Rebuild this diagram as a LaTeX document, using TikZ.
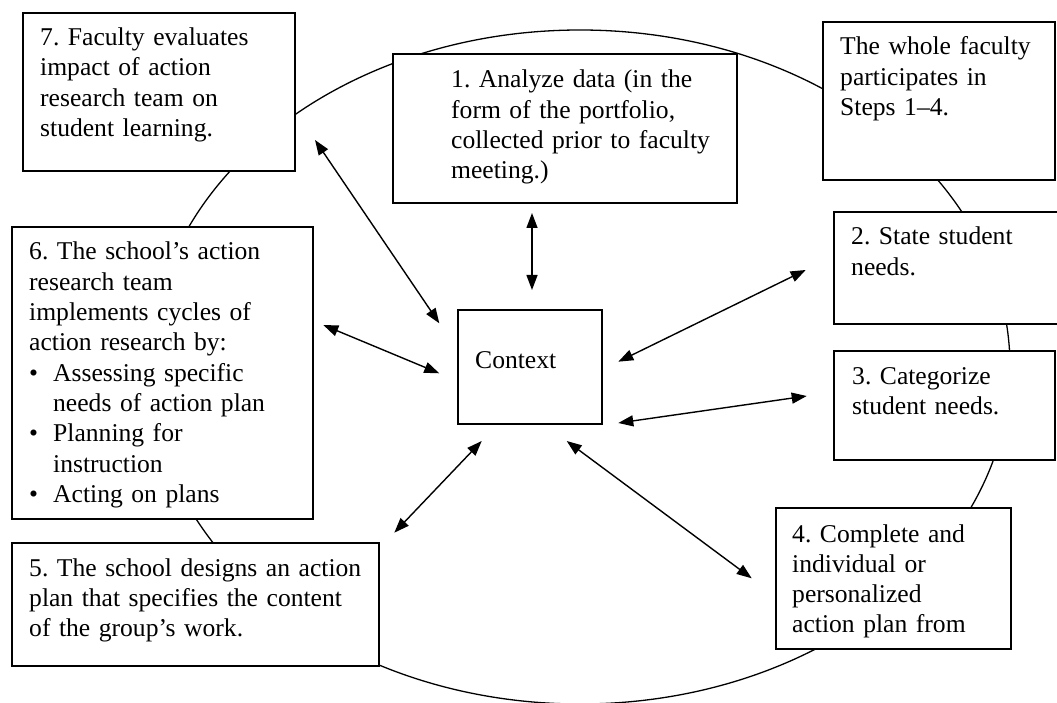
\documentclass[tikz,border=0pt]{standalone}
\usepackage{fontspec}
\setmainfont{Liberation Serif}
\usetikzlibrary{arrows.meta}

\begin{document}
\frenchspacing
\begin{tikzpicture}[x=1pt,y=-1pt,
  box/.style={draw, line width=1.4pt, fill=white, rectangle, inner sep=0pt},
  txt/.style={anchor=base west, inner sep=0pt, text width=400pt, align=left,
              font=\fontsize{25.6}{30.3}\selectfont\frenchspacing},
  ring/.style={line width=1.3pt},
  link/.style={line width=1.4pt,
               {Triangle[length=15pt,width=11pt]}-{Triangle[length=15pt,width=11pt]}}]
\useasboundingbox (0,0) rectangle (1057,703);
\fill[white] (0,0) rectangle (1057,703);

% the cycle behind all the steps
\draw[ring] (580,367) ellipse [x radius=430pt, y radius=337pt];

% step boxes (white fill hides the ellipse behind them)
\node[box, minimum width=272pt, minimum height=158pt] (b7)  at (159,92)     {};
\node[box, minimum width=344pt, minimum height=149pt] (b1)  at (565,128.5)  {};
\node[box, minimum width=232pt, minimum height=158pt] (bw)  at (939,101)    {};
\node[box, minimum width=228pt, minimum height=112pt] (b2)  at (948,268)    {};
\node[box, minimum width=221pt, minimum height=109pt] (b3)  at (944.5,405.5){};
\node[box, minimum width=235pt, minimum height=141pt] (b4)  at (893.5,578.5){};
\node[box, minimum width=367pt, minimum height=123pt] (b5)  at (195.5,604.5){};
\node[box, minimum width=301pt, minimum height=292pt] (b6)  at (162.5,373)  {};
\node[box, minimum width=144pt, minimum height=114pt] (ctx) at (530,367)    {};

% box texts
\node[txt] (t7) at (40,45.7) {7. Faculty evaluates\\impact of action\\research team on\\student learning.};
\node[txt] (t1) at (451,88) {1. Analyze data (in the\\form of the portfolio,\\collected prior to faculty\\meeting.)};
\node[txt] (tw) at (840,55) {The whole faculty\\participates in\\Steps 1–4.};
\node[txt] (t2) at (851,245) {2. State student\\needs.};
\node[txt] (t3) at (852,384) {3. Categorize\\student needs.};
\node[txt] (t4) at (792,542) {4. Complete and\\individual or\\personalized\\action plan from};
\node[txt] (t5) at (29,576) {5. The school designs an action\\plan that specifies the content\\of the group’s work.};
\node[txt] (t6) at (29,260) {6. The school’s action\\research team\\implements cycles of\\action research by:\\
  \makebox[24pt][l]{•}Assessing specific\\\hspace*{24pt}needs of action plan\\
  \makebox[24pt][l]{•}Planning for\\\hspace*{24pt}instruction\\
  \makebox[24pt][l]{•}Acting on plans};
\node[txt] (tc) at (475,368) {Context};

% arrow end points around the context box
\coordinate (p1a) at (532,213);   \coordinate (p1b) at (532,290);
\coordinate (p7a) at (315,140);   \coordinate (p7b) at (439.3,323.3);
\coordinate (p6a) at (323.3,325); \coordinate (p6b) at (439.3,373.3);
\coordinate (p2a) at (618.3,361.7); \coordinate (p2b) at (805.7,270);
\coordinate (p3a) at (618.3,423); \coordinate (p3b) at (806.7,396);
\coordinate (p4a) at (566.7,441); \coordinate (p4b) at (751.7,578.3);
\coordinate (p5a) at (481.7,441); \coordinate (p5b) at (394.3,532.7);

\draw[link] (p1a) -- (p1b);
\draw[link] (p7a) -- (p7b);
\draw[link] (p6a) -- (p6b);
\draw[link] (p2a) -- (p2b);
\draw[link] (p3a) -- (p3b);
\draw[link] (p4a) -- (p4b);
\draw[link] (p5a) -- (p5b);
\end{tikzpicture}
\end{document}
